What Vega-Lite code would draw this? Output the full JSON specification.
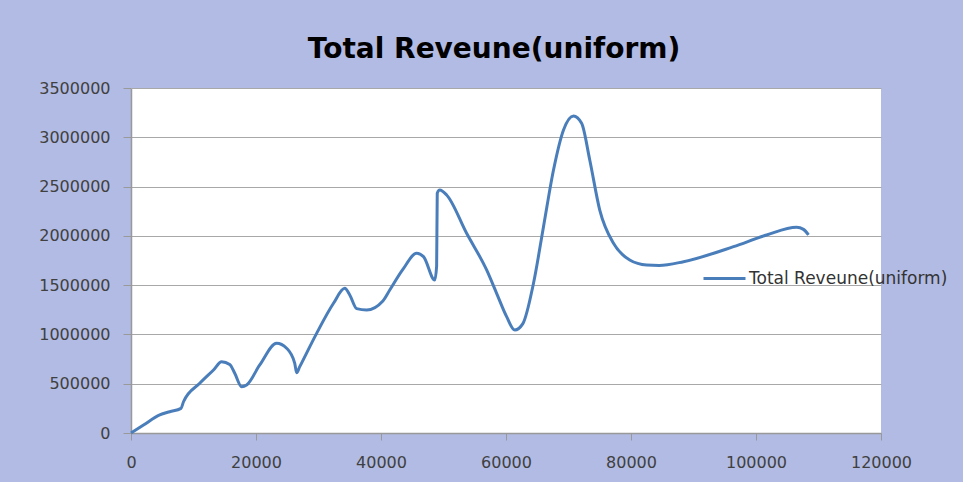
{
  "$schema": "https://vega.github.io/schema/vega-lite/v6.json",
  "width": 750,
  "height": 345,
  "autosize": {"type": "none"},
  "padding": {"left": 131, "top": 88, "right": 82, "bottom": 49},
  "background": "#b2bbe3",
  "title": {
    "text": "Total Reveune(uniform)",
    "font": "DejaVu Sans",
    "fontSize": 28,
    "fontWeight": "bold",
    "color": "#000000",
    "anchor": "middle",
    "dx": -12,
    "offset": 16
  },
  "data": {
    "values": [
      {"x": 0, "y": 0},
      {"x": 2000, "y": 81000},
      {"x": 4600, "y": 183000},
      {"x": 6200, "y": 216000},
      {"x": 8000, "y": 250000},
      {"x": 8400, "y": 317000},
      {"x": 11000, "y": 504000},
      {"x": 13200, "y": 639000},
      {"x": 14500, "y": 723000},
      {"x": 15800, "y": 695000},
      {"x": 16600, "y": 606000},
      {"x": 17700, "y": 470000},
      {"x": 18500, "y": 487000},
      {"x": 20600, "y": 690000},
      {"x": 23300, "y": 910000},
      {"x": 24900, "y": 860000},
      {"x": 26200, "y": 707000},
      {"x": 26500, "y": 612000},
      {"x": 27000, "y": 673000},
      {"x": 29700, "y": 1011000},
      {"x": 32400, "y": 1316000},
      {"x": 34200, "y": 1468000},
      {"x": 35000, "y": 1400000},
      {"x": 36100, "y": 1262000},
      {"x": 37700, "y": 1248000},
      {"x": 40300, "y": 1340000},
      {"x": 41400, "y": 1451000},
      {"x": 43500, "y": 1660000},
      {"x": 45700, "y": 1823000},
      {"x": 46800, "y": 1789000},
      {"x": 48600, "y": 1552000},
      {"x": 48900, "y": 1690000},
      {"x": 49000, "y": 2432000},
      {"x": 49400, "y": 2465000},
      {"x": 50500, "y": 2415000},
      {"x": 53700, "y": 2026000},
      {"x": 56900, "y": 1654000},
      {"x": 58500, "y": 1417000},
      {"x": 60100, "y": 1180000},
      {"x": 61400, "y": 1045000},
      {"x": 62700, "y": 1110000},
      {"x": 64400, "y": 1519000},
      {"x": 66000, "y": 2093000},
      {"x": 67600, "y": 2668000},
      {"x": 69200, "y": 3074000},
      {"x": 70800, "y": 3216000},
      {"x": 72100, "y": 3142000},
      {"x": 73400, "y": 2770000},
      {"x": 75000, "y": 2262000},
      {"x": 77200, "y": 1924000},
      {"x": 79800, "y": 1755000},
      {"x": 82500, "y": 1704000},
      {"x": 84500, "y": 1700000},
      {"x": 88400, "y": 1738000},
      {"x": 96400, "y": 1890000},
      {"x": 101700, "y": 2009000},
      {"x": 106500, "y": 2087000},
      {"x": 107600, "y": 2066000},
      {"x": 108400, "y": 2009000}
    ]
  },
  "mark": {"type": "line", "interpolate": "monotone", "strokeWidth": 3},
  "encoding": {
    "x": {
      "field": "x",
      "type": "quantitative",
      "scale": {"domain": [0, 120000], "nice": false},
      "axis": {
        "title": null,
        "values": [0, 20000, 40000, 60000, 80000, 100000, 120000],
        "format": "d",
        "grid": false,
        "tickSize": 7,
        "labelPadding": 14,
        "labelFlush": false
      }
    },
    "y": {
      "field": "y",
      "type": "quantitative",
      "scale": {"domain": [0, 3500000], "nice": false},
      "axis": {
        "title": null,
        "values": [0, 500000, 1000000, 1500000, 2000000, 2500000, 3000000, 3500000],
        "format": "d",
        "grid": true,
        "tickSize": 8,
        "labelPadding": 13,
        "labelFlush": false
      }
    },
    "color": {
      "datum": "Total Reveune(uniform)",
      "type": "nominal",
      "scale": {"range": ["#4a7ebb"]},
      "legend": {
        "title": null,
        "orient": "none",
        "legendX": 571,
        "legendY": 168,
        "symbolType": "stroke",
        "symbolSize": 1764,
        "symbolStrokeWidth": 3,
        "labelFont": "DejaVu Sans",
        "labelFontSize": 17,
        "labelColor": "#333333",
        "labelOffset": 2,
        "labelLimit": 0,
        "padding": 0
      }
    }
  },
  "config": {
    "view": {"fill": "#ffffff", "stroke": null},
    "axis": {
      "labelFont": "DejaVu Sans",
      "labelFontSize": 16,
      "labelColor": "#404040",
      "domainColor": "#999999",
      "tickColor": "#999999",
      "gridColor": "#a8a8a8",
      "gridWidth": 1,
      "domainWidth": 1.5
    }
  }
}
